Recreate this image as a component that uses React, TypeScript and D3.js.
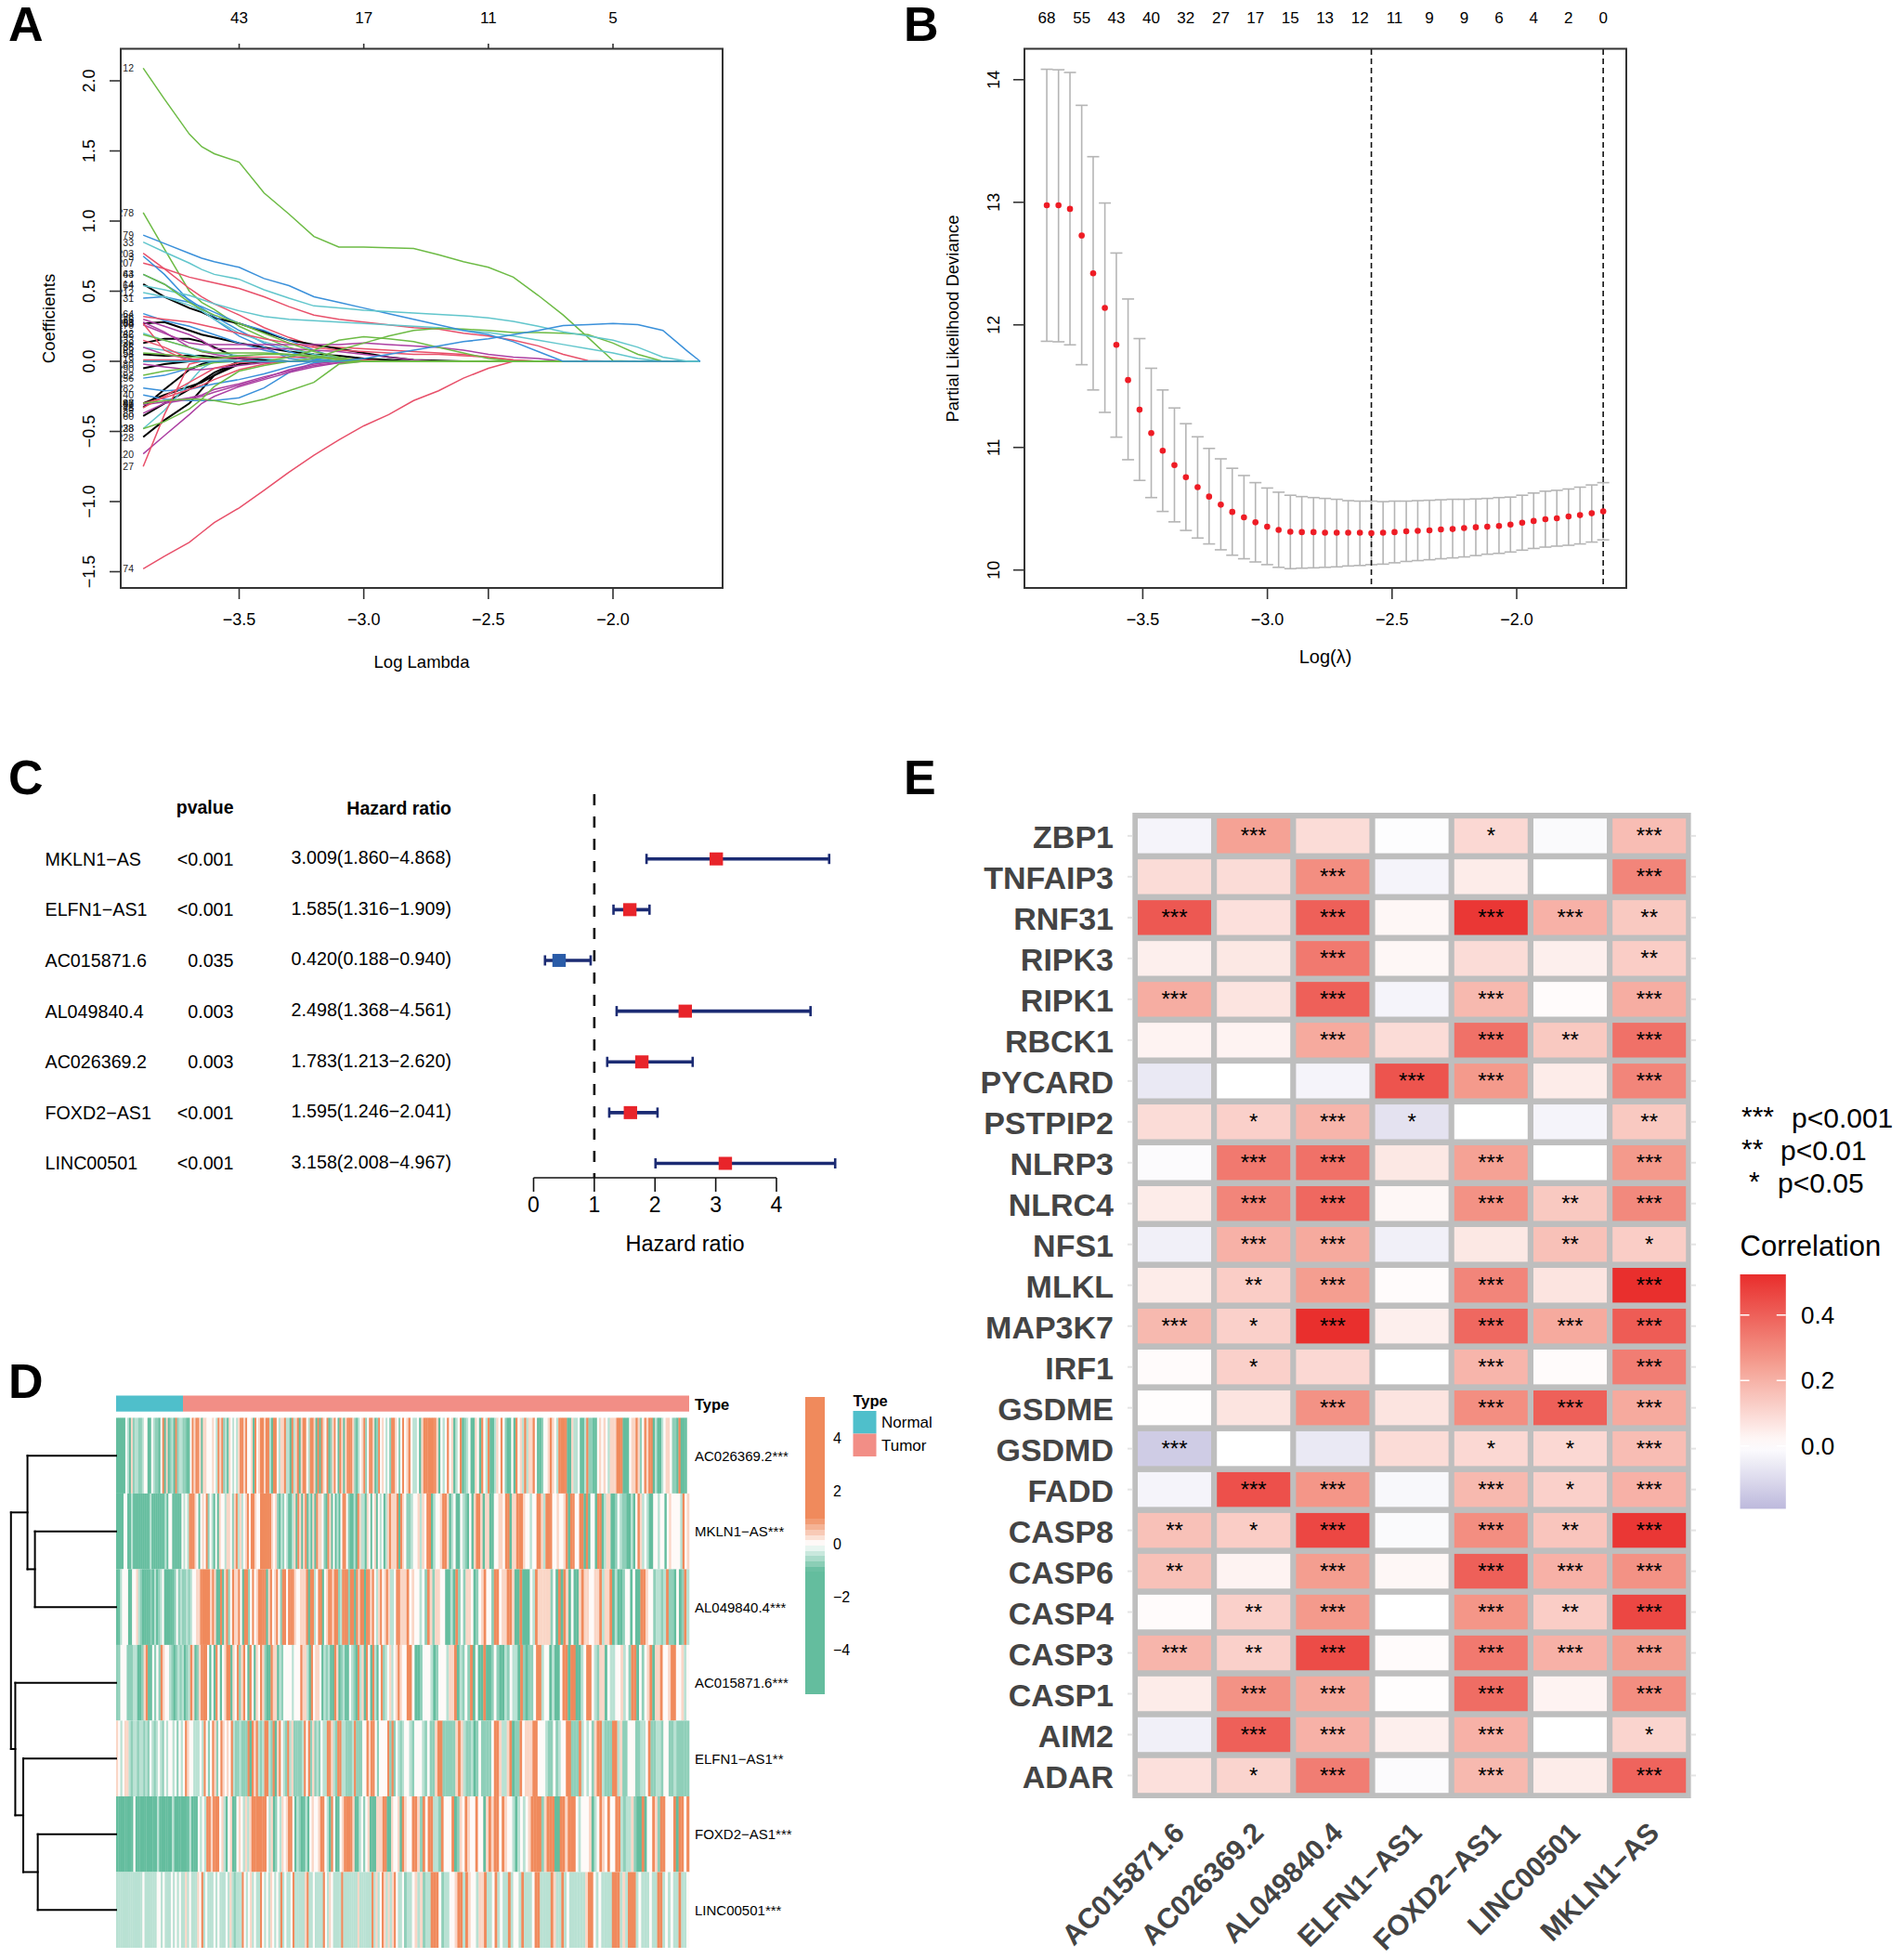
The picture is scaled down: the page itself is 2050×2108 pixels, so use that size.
import React from "react";
import * as d3 from "d3";

const FONT = "'Liberation Sans', Arial, sans-serif";

// ---------- Panel A data
const lassoLambda = [-3.885,-3.8,-3.7,-3.65,-3.6,-3.5,-3.4,-3.3,-3.2,-3.1,-3.0,-2.9,-2.8,-2.7,-2.6,-2.5,-2.4,-2.3,-2.2,-2.1,-2.0,-1.9,-1.8,-1.7,-1.65];
const K="#000000",R="#E8506A",G="#6DBB45",B="#3A90DA",C="#62C6CC",M="#AC3FA2";
const lassoSeries: [string,string,number[]][] = [
["12",G,[2.09,1.87,1.62,1.53,1.48,1.42,1.2,1.05,0.89,0.815,0.815,0.81,0.805,0.76,0.71,0.67,0.6,0.47,0.33,0.17,0.005]],
["74",R,[-1.48,-1.39,-1.29,-1.22,-1.15,-1.045,-0.92,-0.79,-0.67,-0.56,-0.46,-0.38,-0.28,-0.21,-0.12,-0.05]],
["278",G,[1.06,0.8,0.5,0.42,0.37,0.25,0.17,0.1,0.05,0.01]],
["203",R,[0.77,0.66,0.52,0.46,0.41,0.33,0.24,0.17,0.11,0.1,0.09,0.08,0.07,0.06,0.05,0.03,0.01]],
["207",R,[0.7,0.66,0.6,0.58,0.56,0.52,0.46,0.39,0.33,0.3,0.28,0.26,0.24,0.23,0.2,0.18,0.15,0.11,0.05,0.005]],
["14",K,[0.55,0.46,0.38,0.35,0.31,0.27,0.21,0.15,0.12,0.09,0.06,0.03,0.01,0.005]],
["264",K,[0.27,0.28,0.22,0.19,0.17,0.13,0.1,0.07,0.05,0.04,0.02,0.01]],
["236",K,[0.13,0.16,0.16,0.14,0.1,0.02]],
["98",K,[0.05,0.04,0.04,0.04,0.03,0.02,0.01]],
["228",K,[-0.54,-0.42,-0.3,-0.2,-0.1]],
["60",K,[-0.39,-0.3,-0.2,-0.14,-0.08]],
["48",K,[-0.33,-0.2,-0.06,-0.02]],
["96",K,[-0.3,-0.24,-0.18,-0.15,-0.1,-0.02]],
["290",K,[-0.05,-0.02]],
["3",B,[0.75,0.62,0.43,0.36,0.3,0.18,0.1,0.02]],
["63",B,[0.62,0.55,0.44,0.38,0.32,0.22,0.13,0.07,0.02]],
["31",B,[0.45,0.46,0.42,0.39,0.35,0.27,0.22,0.15,0.08,0.02]],
["164",B,[0.34,0.29,0.25,0.22,0.19,0.13,0.08,0.04,0.01]],
["256",B,[-0.12,-0.1,-0.05,-0.03]],
["40",B,[-0.24,-0.27,-0.28,-0.28,-0.28,-0.26,-0.19,-0.08,-0.01]],
["282",B,[-0.19,-0.21,-0.2,-0.18,-0.16,-0.13,-0.09,-0.04]],
["64",C,[0.54,0.51,0.47,0.44,0.41,0.36,0.32,0.3,0.29,0.28,0.27,0.26,0.25,0.24,0.22,0.205,0.18,0.15,0.12,0.09,0.06,0.02]],
["212",C,[0.49,0.46,0.4,0.36,0.3,0.2,0.14,0.09,0.05,0.02]],
["28",C,[-0.48,-0.35,-0.15,-0.05]],
["35",C,[0.1,0.08,0.05,0.03,0.02]],
["242",C,[0.2,0.15,0.1,0.08,0.06,0.04,0.02]],
["120",M,[-0.66,-0.53,-0.38,-0.3,-0.25,-0.18,-0.13,-0.08,-0.04,-0.01]],
["52",M,[-0.31,-0.29,-0.26,-0.24,-0.2,-0.16,-0.11,-0.07,-0.03,-0.01]],
["88",M,[-0.37,-0.3,-0.27,-0.25,-0.22,-0.17,-0.12,-0.06,-0.02]],
["270",M,[0.26,0.2,0.13,0.12,0.12,0.12,0.12,0.12,0.12,0.12,0.13,0.12,0.11,0.1,0.08,0.05,0.03,0.02]],
["198",M,[0.28,0.21,0.1,0.07,0.05,0.02]],
["126",M,[0.3,0.25,0.19,0.15,0.09,0.09,0.09,0.09,0.08,0.07,0.05,0.03,0.01]],
["180",M,[-0.02,-0.04,-0.06,-0.06,-0.05,-0.03,-0.01]],
["66",M,[0.1,0.05,0.02]],
["27",R,[-0.75,-0.38,-0.02]],
["226",R,[0.32,0.3,0.28,0.26,0.24,0.2,0.16,0.13,0.1,0.08,0.07,0.06,0.05,0.05,0.04,0.03,0.01]],
["268",R,[0.27,0.08]],
["87",R,[-0.3,-0.26,-0.2,-0.17,-0.13,-0.06,-0.02]],
["19",R,[0.01,0.01,0.01,0.02,0.02,0.03,0.03,0.03,0.03,0.02,0.01]],
["75",R,[-0.33,-0.25,-0.15,-0.1,-0.05,-0.01]],
["133",R,[0.15,0.1,0.02]],
["142",G,[-0.3,-0.28,-0.27,-0.27,-0.28,-0.31,-0.27,-0.21,-0.15,-0.02]],
["44",G,[0.62,0.55,0.42,0.37,0.33,0.27,0.2,0.13,0.07,0.03]],
["238",G,[-0.48,-0.43,-0.34,-0.27,-0.18,-0.07,-0.03]],
["186",G,[0.19,0.15,0.1,0.07,0.06,0.06,0.06,0.05,0.03,0.01]],
["92",G,[-0.1,-0.07,-0.05,-0.03,-0.01]],
["154",G,[0.06,0.05,0.03,0.03,0.02,0.04,0.05,0.05,0.04,0.02]],
["34",G,[0,0,0,0,0,0,0,0,0.02,0.08,0.13,0.18,0.22,0.235,0.23,0.22,0.205,0.205,0.2,0.19,0.13,0.05]],
["59",G,[0,0,0,0,0,0,0,0.03,0.08,0.15,0.175,0.16,0.14,0.1,0.06,0.02]],
["79",B,[0.9,0.84,0.77,0.735,0.71,0.67,0.59,0.54,0.46,0.42,0.38,0.34,0.3,0.26,0.22,0.19,0.14,0.07]],
["33",C,[0.85,0.78,0.7,0.655,0.62,0.585,0.51,0.45,0.395,0.38,0.365,0.355,0.345,0.335,0.325,0.31,0.285,0.25,0.21,0.18,0.15,0.1,0.03]],
["109",B,[0,0,0,0,0,0,0,0,0,0,0.02,0.05,0.08,0.11,0.14,0.16,0.19,0.22,0.255,0.262,0.27,0.262,0.22,0.07,0]],
];
const lassoTopLabels = ["43","17","11","5"];
const lassoTicksX = [-3.5,-3,-2.5,-2];
const lassoTicksY = [-1.5,-1,-0.5,0,0.5,1,1.5,2];

// ---------- Panel B data
const cvLambda = [-3.885,-3.838,-3.792,-3.745,-3.699,-3.652,-3.606,-3.559,-3.513,-3.466,-3.42,-3.373,-3.327,-3.28,-3.234,-3.187,-3.141,-3.094,-3.048,-3.001,-2.955,-2.908,-2.862,-2.815,-2.769,-2.722,-2.676,-2.629,-2.583,-2.536,-2.49,-2.443,-2.397,-2.35,-2.304,-2.257,-2.211,-2.164,-2.118,-2.071,-2.025,-1.978,-1.932,-1.885,-1.839,-1.792,-1.746,-1.699,-1.653];
const cvMean = [12.975,12.975,12.946,12.729,12.42,12.138,11.837,11.55,11.308,11.117,10.973,10.856,10.757,10.676,10.599,10.533,10.474,10.43,10.389,10.353,10.327,10.312,10.309,10.309,10.305,10.305,10.305,10.305,10.301,10.305,10.309,10.316,10.32,10.323,10.331,10.334,10.342,10.349,10.353,10.36,10.371,10.386,10.4,10.415,10.422,10.437,10.448,10.463,10.478];
const cvUpper = [14.085,14.081,14.059,13.791,13.372,12.994,12.586,12.211,11.888,11.646,11.469,11.322,11.194,11.087,10.992,10.907,10.83,10.771,10.713,10.669,10.635,10.61,10.599,10.591,10.584,10.577,10.566,10.562,10.562,10.558,10.562,10.562,10.566,10.569,10.573,10.577,10.577,10.58,10.584,10.591,10.595,10.61,10.628,10.643,10.65,10.661,10.676,10.694,10.713];
const cvLower = [11.866,11.862,11.837,11.675,11.469,11.286,11.084,10.9,10.731,10.591,10.478,10.393,10.323,10.261,10.213,10.165,10.121,10.092,10.066,10.044,10.022,10.011,10.015,10.018,10.022,10.026,10.033,10.037,10.044,10.048,10.059,10.07,10.077,10.084,10.092,10.099,10.107,10.118,10.129,10.136,10.147,10.162,10.176,10.187,10.195,10.202,10.213,10.228,10.246];
const cvTopLabels = ["68","55","43","40","32","27","17","15","13","12","11","9","9","6","4","2","0"];
const cvTicksY = [10,11,12,13,14];
const cvMarks = [-2.583,-1.653];

// ---------- Panel C data
const hrGenes = ["MKLN1\u2212AS","ELFN1\u2212AS1","AC015871.6","AL049840.4","AC026369.2","FOXD2\u2212AS1","LINC00501"];
const hrP = ["<0.001","<0.001","0.035","0.003","0.003","<0.001","<0.001"];
const hrValue = [3.009,1.585,0.42,2.498,1.783,1.595,3.158];
const hrLow = [1.86,1.316,0.188,1.368,1.213,1.246,2.008];
const hrHigh = [4.868,1.909,0.94,4.561,2.62,2.041,4.967];
const hrTicks = [0,1,2,3,4];

// ---------- Panel D data (one letter per stripe)
const heatGenes = ["AC026369.2***","MKLN1\u2212AS***","AL049840.4***","AC015871.6***","ELFN1\u2212AS1**","FOXD2\u2212AS1***","LINC00501***"];
const heatLeft = [
"GGGGGwlGpgllgglwwGGwlggGwoGpGglGogllggGGwopoopGppwwwpwlopoglGpwlwlpoopowwpGowpoopoolGoowlppollGolpoGpoowloopGoGopwoGgpowGopGpooopgGlwpogwoopGgowpwlwgoopwgwo",
"GGGGwwGGlGGGGGGGGGlGGGGGGGlGwwGGGGGwlwlooopwGwpwogwlGwGpwwlppwgpolplwpowoopwwoooooopwpgGlgwlGGlpGopGpoGlGpGoppwgGopGwGlGwoowgGGlGopllGpwGwpGwlwGlpopppoGop",
"GGlwwwGGwwplgGGGGgGlGglwGGGGGgwglgglglwwppooooopopGGoGpogwoppowGoogwowpooooGpowpowgoowooopwwpppoGoolwooGwpoopooglooogooGopooGoopowlpowpopllwoopp",
"ggwwwgggllGGgpoGGwgwgopwwlgGglglGglopGgpooowGwGowGwpooGpwogpowGowGpwopgGGoppGlgwwwwlwwwopplGowppwGlglGGopGglGGwlgGolpGowGolGwoglwplwpopw",
"pwlwpplgllgllglgwlglwlgwlwwlwgwlwopwwlllwlowgwopgwopwpwolgglgggoGopolgloolgoGpowlgolpgggglowogpglgwllooplgoollggglogggwwopoowgwwwwogogwlgl",
"GGGGGGGGwGGGGGGGGGGlGGGGGGlGGGGGGGlGGGwlwloopooowplGwpGGwpwlplpooooooowlpGgwlpwpoowGlgGGlGwpwwpoowlGowGGwpoooopGGlwgwpGGGpppooGGpwwpGo",
"lllllllllllllwllllllwwlwlllwlwlwllplwlllpwolwlllwlwlllwlplglllowlwplwllowlwlpwlwlolwllwolllllpollwllllowlpwllllolllllllpllllllolplwoplplpowllw",
];
const heatRight = [
"wpowllwGpoooooopGwlwowpGlwoGglwGGpwGowloGGlpwowgGGwGowplolppowGGgwwpopwlooooGGpllwGGloggGGwpwpwlpppoooGGGwppopgwopooGlGGlwppwggGoGGGw",
"wgglwwplpwooGlwwpoopGlwGGwlgGwGpoopGppGGwwppwooGppooopwwlwwooplooowwpwwpoGoowwooGoGwwGooGlppGGgwlggGGlGwoplwlGGwwlwwGwpwwwwlowp",
"powpwwlwgopgppwwGGlGogwgppwGgwpowwgoowppoopGGoGGGwlopppppgwGoGopGwGGpoppwwppolppoGlGGgwwGwGGoopwwgllgloggGwGgol",
"woowGGgwwwlGgwwwlppoGlgwgoGwGGoGGgwgGGlgwllGogGggwoolwwGlGGwooGooGGlwoowlgppGwllwwplwgooGwgwpoGppowwpoowwplw",
"wwlgwwwlgwggpoogggggpoplgglGgwggggwoopllpoGggowpppoowwwlggwglwwoogggolwlwgpoolgggoolpggwwwggllwoggllgwwgglggggg",
"pwwoopgowoollgowwwoGgpwopwwowwGpopoowopwwlGlwlwpoooogpoooGGoopooowlwwwpGlwopwowwoolgllpgGGoGwwopgoowwwoGoowo",
"gllwplpgllooowgllwwpoolopwwlppollwolwllolwwlolllwoollllopllolwllllllpoowlwllllooolplooolwlllwlloolwlwllollw",
];
const heatLevelNames = ["G","g","l","w","p","o"];
const heatLevelValues = [-2,-0.72,-0.45,0.04,0.35,2];
const heatLegendTicks = [4,2,0,-2,-4];
const typeNames = ["Normal","Tumor"];
type Den = {h:number,kids:(Den|number)[]};
const dendrogram: Den = {h:1,kids:[
  {h:0.843,kids:[0,{h:0.772,kids:[1,2]}]},
  {h:0.959,kids:[3,{h:0.883,kids:[4,{h:0.745,kids:[5,6]}]}]},
]};

// ---------- Panel E data
const corrRows = ["ZBP1","TNFAIP3","RNF31","RIPK3","RIPK1","RBCK1","PYCARD","PSTPIP2","NLRP3","NLRC4","NFS1","MLKL","MAP3K7","IRF1","GSDME","GSDMD","FADD","CASP8","CASP6","CASP4","CASP3","CASP1","AIM2","ADAR"];
const corrCols = ["AC015871.6","AC026369.2","AL049840.4","ELFN1\u2212AS1","FOXD2\u2212AS1","LINC00501","MKLN1\u2212AS"];
const corrValues = [
[-0.03,0.24,0.09,-0.005,0.1,-0.015,0.17],
[0.09,0.09,0.29,-0.03,0.05,0,0.31],
[0.42,0.08,0.4,0.02,0.5,0.2,0.14],
[0.04,0.06,0.34,0.02,0.09,0.04,0.13],
[0.21,0.07,0.4,-0.03,0.18,0.01,0.21],
[0.03,0.03,0.22,0.09,0.36,0.14,0.36],
[-0.06,0,-0.03,0.43,0.26,0.05,0.31],
[0.09,0.12,0.19,-0.08,0,-0.03,0.14],
[-0.01,0.34,0.36,0.06,0.24,0,0.26],
[0.05,0.31,0.38,0.02,0.28,0.14,0.3],
[-0.04,0.2,0.22,-0.04,0.06,0.16,0.13],
[0.05,0.13,0.25,0.01,0.31,0.07,0.52],
[0.18,0.12,0.52,0.04,0.38,0.22,0.41],
[0.01,0.12,0.1,0,0.19,0.01,0.33],
[0.005,0.07,0.28,0.07,0.29,0.4,0.22],
[-0.14,0,-0.06,0.09,0.1,0.1,0.17],
[-0.03,0.44,0.27,-0.02,0.18,0.12,0.2],
[0.16,0.13,0.46,-0.015,0.29,0.15,0.5],
[0.16,0.03,0.25,0.02,0.4,0.2,0.28],
[0.01,0.12,0.26,0,0.27,0.13,0.46],
[0.19,0.12,0.45,0.01,0.34,0.2,0.25],
[0.05,0.28,0.22,0.005,0.37,0.03,0.29],
[-0.04,0.4,0.2,0.04,0.2,0,0.11],
[0.08,0.11,0.33,-0.01,0.18,0.05,0.39],
];
const corrStars = [
["","***","","","*","","***"],
["","","***","","","","***"],
["***","","***","","***","***","**"],
["","","***","","","","**"],
["***","","***","","***","","***"],
["","","***","","***","**","***"],
["","","","***","***","","***"],
["","*","***","*","","","**"],
["","***","***","","***","","***"],
["","***","***","","***","**","***"],
["","***","***","","","**","*"],
["","**","***","","***","","***"],
["***","*","***","","***","***","***"],
["","*","","","***","","***"],
["","","***","","***","***","***"],
["***","","","","*","*","***"],
["","***","***","","***","*","***"],
["**","*","***","","***","**","***"],
["**","","***","","***","***","***"],
["","**","***","","***","**","***"],
["***","**","***","","***","***","***"],
["","***","***","","***","","***"],
["","***","***","","***","","*"],
["","*","***","","***","","***"],
];
const corrLegendTicks = [0.4,0.2,0];
const pLegend = [["***","p<0.001"],["**","p<0.01"],["*","p<0.05"]];

const fmtMinus = (s:string)=>s.replace("-","\u2212");

function PanelA(){
  const x=d3.scaleLinear().domain([-3.5,-2]).range([257.5,660]);
  const y=d3.scaleLinear().domain([0,2]).range([389,87]);
  const line=d3.line<number>().x((_,i)=>x(lassoLambda[i])).y(d=>y(d));
  const pad=(v:number[])=>lassoLambda.map((_,i)=>i<v.length?v[i]:0);
  return <g>
    <defs><clipPath id="aclip"><rect x={130} y={52} width={648} height={581}/></clipPath></defs>
    <g fill="none" strokeWidth={1.5}>
      {lassoSeries.map(([n,c,v])=><path key={n} d={line(pad(v))!} stroke={c} strokeWidth={c===K?2:1.5}/>)}
    </g>
    <g clipPath="url(#aclip)" fontSize={10.5} textAnchor="end" fill="#222">
      {lassoSeries.filter(s=>s[0]!=="109"&&s[0]!=="34"&&s[0]!=="59").map(([n,c,v])=><text key={n} x={144} y={y(v[0])} dominantBaseline="central">{n}</text>)}
    </g>
    <rect x={130} y={52.5} width={648} height={580.5} fill="none" stroke="#333" strokeWidth={2}/>
    {lassoTicksX.map((t,i)=><g key={t}>
      <line x1={x(t)} x2={x(t)} y1={633} y2={645} stroke="#333" strokeWidth={1.6}/>
      <line x1={x(t)} x2={x(t)} y1={47} y2={52} stroke="#333" strokeWidth={1.6}/>
      <text x={x(t)} y={667} textAnchor="middle" dominantBaseline="central" fontSize={18}>{fmtMinus(t.toFixed(1))}</text>
      <text x={x(t)} y={19} textAnchor="middle" dominantBaseline="central" fontSize={17}>{lassoTopLabels[i]}</text>
    </g>)}
    {lassoTicksY.map(t=><g key={t}>
      <line x1={118} x2={130} y1={y(t)} y2={y(t)} stroke="#333" strokeWidth={1.6}/>
      <text transform={`translate(96,${y(t)}) rotate(-90)`} textAnchor="middle" dominantBaseline="central" fontSize={18}>{fmtMinus(t.toFixed(1))}</text>
    </g>)}
    <text x={454} y={712} textAnchor="middle" dominantBaseline="central" fontSize={18.5}>Log Lambda</text>
    <text transform="translate(52,343) rotate(-90)" textAnchor="middle" dominantBaseline="central" fontSize={18.5}>Coefficients</text>
  </g>;
}

function PanelB(){
  const x=d3.scaleLinear().domain([-3.5,-2]).range([1230.4,1633]);
  const y=d3.scaleLinear().domain([10,14]).range([613.7,85.8]);
  return <g>
    <g stroke="#B5B5B5" strokeWidth={1.6}>
      {cvLambda.map((l,i)=><g key={i}>
        <line x1={x(l)} x2={x(l)} y1={y(cvLower[i])} y2={y(cvUpper[i])}/>
        <line x1={x(l)-6.5} x2={x(l)+6.5} y1={y(cvLower[i])} y2={y(cvLower[i])}/>
        <line x1={x(l)-6.5} x2={x(l)+6.5} y1={y(cvUpper[i])} y2={y(cvUpper[i])}/>
      </g>)}
    </g>
    {cvMarks.map(m=><line key={m} x1={x(m)} x2={x(m)} y1={53} y2={633} stroke="#111" strokeWidth={1.6} strokeDasharray="6 4"/>)}
    {cvLambda.map((l,i)=><circle key={i} cx={x(l)} cy={y(cvMean[i])} r={3.3} fill="#EE1C25"/>)}
    <rect x={1103} y={52.5} width={648} height={580.5} fill="none" stroke="#333" strokeWidth={2}/>
    {lassoTicksX.map(t=><g key={t}>
      <line x1={x(t)} x2={x(t)} y1={633} y2={645} stroke="#333" strokeWidth={1.6}/>
      <text x={x(t)} y={667} textAnchor="middle" dominantBaseline="central" fontSize={18}>{fmtMinus(t.toFixed(1))}</text>
    </g>)}
    {cvTopLabels.map((t,i)=><text key={i} x={x(cvLambda[i*3])} y={19} textAnchor="middle" dominantBaseline="central" fontSize={17}>{t}</text>)}
    {cvTicksY.map(t=><g key={t}>
      <line x1={1091} x2={1103} y1={y(t)} y2={y(t)} stroke="#333" strokeWidth={1.6}/>
      <text transform={`translate(1070,${y(t)}) rotate(-90)`} textAnchor="middle" dominantBaseline="central" fontSize={18}>{t}</text>
    </g>)}
    <text x={1427} y={707} textAnchor="middle" dominantBaseline="central" fontSize={20}>Log(λ)</text>
    <text transform="translate(1025,343) rotate(-90)" textAnchor="middle" dominantBaseline="central" fontSize={18.5}>Partial Likelihood Deviance</text>
  </g>;
}

function PanelC(){
  const x=d3.scaleLinear().domain([0,4]).range([574.5,836]);
  const y=d3.scaleBand<number>().domain(hrGenes.map((_,i)=>i)).range([897.4,1279.8]);
  const cy=(i:number)=>y(i)!+y.bandwidth()/2;
  return <g>
    <text x={251.5} y={869} textAnchor="end" dominantBaseline="central" fontSize={19.5} fontWeight="bold">pvalue</text>
    <text x={486} y={870} textAnchor="end" dominantBaseline="central" fontSize={19.5} fontWeight="bold">Hazard ratio</text>
    <line x1={x(1)} x2={x(1)} y1={855} y2={1268} stroke="#111" strokeWidth={2.6} strokeDasharray="12 12"/>
    {hrGenes.map((g,i)=><g key={g}>
      <text x={48.5} y={cy(i)} dominantBaseline="central" fontSize={19.7}>{g}</text>
      <text x={251.5} y={cy(i)} textAnchor="end" dominantBaseline="central" fontSize={19.7}>{hrP[i]}</text>
      <text x={486} y={cy(i)-1.5} textAnchor="end" dominantBaseline="central" fontSize={19.7}>{`${hrValue[i].toFixed(3)}(${hrLow[i].toFixed(3)}\u2212${hrHigh[i].toFixed(3)})`}</text>
      <g stroke="#1B2B73" strokeWidth={3.6}>
        <line x1={x(hrLow[i])} x2={x(hrHigh[i])} y1={cy(i)} y2={cy(i)}/>
        <line x1={x(hrLow[i])} x2={x(hrLow[i])} y1={cy(i)-5.5} y2={cy(i)+5.5} strokeWidth={2.6}/>
        <line x1={x(hrHigh[i])} x2={x(hrHigh[i])} y1={cy(i)-5.5} y2={cy(i)+5.5} strokeWidth={2.6}/>
      </g>
      <rect x={x(hrValue[i])-7.2} y={cy(i)-7} width={14.4} height={14} fill={hrValue[i]>1?"#E8242A":"#2A5CA8"}/>
    </g>)}
    <line x1={x(0)} x2={x(4)} y1={1268} y2={1268} stroke="#111" strokeWidth={1.6}/>
    {hrTicks.map(t=><g key={t}>
      <line x1={x(t)} x2={x(t)} y1={1268} y2={1283} stroke="#111" strokeWidth={1.6}/>
      <text x={x(t)} y={1296.5} textAnchor="middle" dominantBaseline="central" fontSize={23}>{t}</text>
    </g>)}
    <text x={737.5} y={1339.4} textAnchor="middle" dominantBaseline="central" fontSize={23.5}>Hazard ratio</text>
  </g>;
}

function PanelD(){
  const color=d3.scaleLinear<string>().domain([-1,0,1]).range(["#64BD9E","#FFFFFF","#F08A5C"]).clamp(true);
  const level=(ch:string)=>heatLevelValues[heatLevelNames.indexOf(ch)];
  const rowY=d3.scaleBand<number>().domain(heatGenes.map((_,i)=>i)).range([1526.4,2097]);
  const xL=d3.scaleLinear().domain([0,1]).range([125,435]);
  const xR=d3.scaleLinear().domain([0,1]).range([435,742]);
  const stripes=(s:string,sc:d3.ScaleLinear<number,number>,r:number)=>s.split("").map((ch,j)=>{
    const a=sc(j/s.length), b=sc((j+1)/s.length);
    return <rect key={`${r}-${sc===xL?"l":"r"}-${j}`} x={a} y={rowY(r)!} width={b-a+0.3} height={rowY.bandwidth()} fill={color(level(ch))}/>;
  });
  const hx=d3.scaleLinear().domain([0,1]).range([125,11.8]);
  const cy=(r:number)=>rowY(r)!+rowY.bandwidth()/2;
  const segs:[number,number,number,number][]=[];
  const walk=(n:Den|number):{y:number,h:number}=>{
    if(typeof n==="number") return {y:cy(n),h:0};
    const a=walk(n.kids[0]), b=walk(n.kids[1]);
    segs.push([hx(a.h),a.y,hx(n.h),a.y]);
    segs.push([hx(b.h),b.y,hx(n.h),b.y]);
    segs.push([hx(n.h),a.y,hx(n.h),b.y]);
    return {y:(a.y+b.y)/2,h:n.h};
  };
  walk(dendrogram);
  const legY=d3.scaleLinear().domain([0,4]).range([1662,1548]);
  const bandVals=d3.range(-5.65,5.55,0.2);
  return <g>
    <rect x={125} y={1502.5} width={72} height={17.2} fill="#4FBFCB"/>
    <rect x={197} y={1502.5} width={545} height={17.2} fill="#F28E86"/>
    <text x={748} y={1512} dominantBaseline="central" fontSize={16.5} fontWeight="bold">Type</text>
    <g>
      {heatGenes.map((_,r)=><g key={r}>{stripes(heatLeft[r],xL,r)}{stripes(heatRight[r],xR,r)}</g>)}
    </g>
    {heatGenes.map((g,r)=><text key={g} x={748} y={cy(r)} dominantBaseline="central" fontSize={15}>{g}</text>)}
    <g stroke="#000" strokeWidth={2} strokeLinecap="square">
      {segs.map((s,i)=><line key={i} x1={s[0]} y1={s[1]} x2={s[2]} y2={s[3]}/>)}
    </g>
    <g shapeRendering="crispEdges">
      {bandVals.map(v=><rect key={v} x={867} width={21} y={legY(v+0.2)} height={legY(v)-legY(v+0.2)+0.5} fill={color(v+0.1)}/>)}
    </g>
    {heatLegendTicks.map(t=><text key={t} x={897} y={legY(t)} dominantBaseline="central" fontSize={16}>{fmtMinus(String(t))}</text>)}
    <text x={918.5} y={1508} dominantBaseline="central" fontSize={16.5} fontWeight="bold">Type</text>
    <rect x={918.5} y={1519} width={25} height={24.5} fill="#4FBFCB"/>
    <rect x={918.5} y={1543.5} width={25} height={24.5} fill="#F28E86"/>
    {typeNames.map((n,i)=><text key={n} x={949} y={1531+i*25} dominantBaseline="central" fontSize={17}>{n}</text>)}
  </g>;
}

function PanelE(){
  const color=d3.scaleLinear<string>().domain([-0.192,0,0.26,0.524]).range(["#BDB9DC","#FFFFFF","#F49A8C","#E92D2C"]);
  const xc=d3.scaleLinear().domain([0,6]).range([1264.5,1775.7]);
  const yc=d3.scaleLinear().domain([0,23]).range([899.9,1911.5]);
  const legY=d3.scaleLinear().domain([0,0.4]).range([1556.7,1415.8]);
  const stops=d3.range(0,1.0001,0.05);
  return <g>
    <defs><linearGradient id="corrGrad" x1="0" y1="1" x2="0" y2="0">
      {stops.map(s=><stop key={s} offset={s} stopColor={color(-0.192+s*0.716)}/>)}
    </linearGradient></defs>
    <rect x={1219.3} y={875} width={601.3} height={1061} fill="#BEBEBE"/>
    {corrRows.map((r,i)=><g key={r}>
      <line x1={1214} x2={1219.3} y1={yc(i)} y2={yc(i)} stroke="#E4E4E4" strokeWidth={2}/>
      <line x1={1820.6} x2={1826} y1={yc(i)} y2={yc(i)} stroke="#E4E4E4" strokeWidth={2}/>
      <text x={1199} y={yc(i)+1} textAnchor="end" dominantBaseline="central" fontSize={34} fontWeight="bold" fill="#444">{r}</text>
      {corrCols.map((c,j)=><g key={c}>
        <rect x={xc(j)-39.5} y={yc(i)-18.7} width={79} height={37.4} fill={color(corrValues[i][j])}/>
        {corrStars[i][j]&&<text x={xc(j)} y={yc(i)+8.5} textAnchor="middle" fontSize={24} fill="#000">{corrStars[i][j]}</text>}
      </g>)}
    </g>)}
    {corrCols.map((c,j)=><text key={c} transform={`translate(${xc(j)+12.5},1975) rotate(-45)`} textAnchor="end" fontSize={30.5} fontWeight="bold" fill="#444">{c}</text>)}
    {pLegend.map(([s,p],i)=><g key={s}>
      <text x={[1875,1875,1883][i]} y={1211.7+i*35} fontSize={30}>{s}</text>
      <text x={[1929,1917,1914][i]} y={1203+i*35} dominantBaseline="central" fontSize={30}>{p}</text>
    </g>)}
    <text x={1873.5} y={1341} dominantBaseline="central" fontSize={31}>Correlation</text>
    <rect x={1873.5} y={1372} width={49.3} height={252.4} fill="url(#corrGrad)"/>
    {corrLegendTicks.map(t=><g key={t} stroke="#fff" strokeWidth={1.5}>
      <line x1={1873.5} x2={1883.5} y1={legY(t)} y2={legY(t)}/>
      <line x1={1912.8} x2={1922.8} y1={legY(t)} y2={legY(t)}/>
      <text x={1939} y={legY(t)} dominantBaseline="central" fontSize={26} stroke="none" fill="#000">{t.toFixed(1)}</text>
    </g>)}
  </g>;
}

const panelLetters: [string,number,number][] = [["A",9,44],["B",973,44],["C",9,855],["D",9,1505],["E",973,855]];

export default function App(){
  return <svg width={2050} height={2108} viewBox="0 0 2050 2108" style={{position:"absolute",left:0,top:0,background:"#fff"}} fontFamily={FONT}>
    <PanelA/><PanelB/><PanelC/><PanelD/><PanelE/>
    {panelLetters.map(([l,x,y])=><text key={l} x={x} y={y} fontSize={52} fontWeight="bold">{l}</text>)}
  </svg>;
}
